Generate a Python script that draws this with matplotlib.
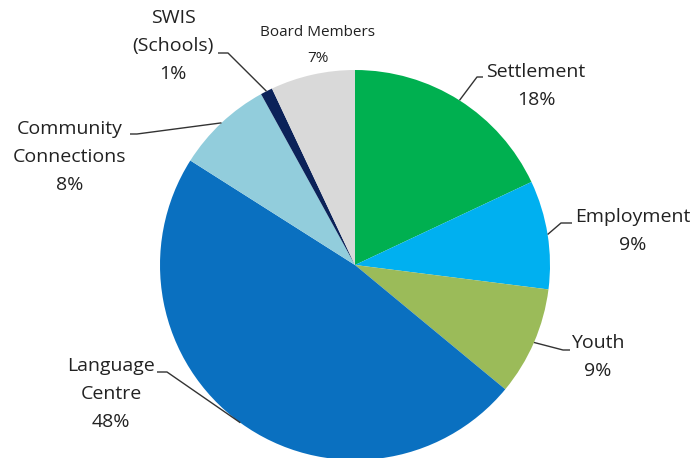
import matplotlib
matplotlib.use("Agg")
import matplotlib.pyplot as plt
import numpy as np

categories = ["Settlement", "Employment", "Youth", "Language\nCentre",
              "Community\nConnections", "SWIS\n(Schools)", "Board Members"]
values = [18, 9, 9, 48, 8, 1, 7]
colors = ["#00B050", "#00B0F0", "#9BBB59", "#0A70C0", "#92CDDC", "#0B2259", "#D9D9D9"]

W, H = 700, 458
fig = plt.figure(figsize=(7, 4.58), dpi=100)
ax = fig.add_axes([0, 0, 1, 1])

cx, cy, R = 355, H - 265, 195
wedges, _ = ax.pie(values, colors=colors, startangle=90, counterclock=False,
                   center=(cx, cy), radius=R, frame=True,
                   wedgeprops=dict(linewidth=0))
ax.set_xlim(0, W)
ax.set_ylim(0, H)
ax.set_aspect("equal")
ax.axis("off")

font = "Open Sans"
# label block centre (x, y in ref pixel coords), horizontal tick start & end
label_pos = [(536, 86), (633, 231), (598, 357), (111, 394), (70, 157), (173, 46), (318, 46)]
ticks = [((483, 77), (477, 77)), ((572, 223), (561, 223)), ((570, 350), (563, 350)),
         ((157, 372), (167, 372)), ((130, 134), (137, 134)), ((218, 53), (228, 53)), None]
sizes = [14, 14, 14, 14, 14, 14, 11]
spacing = [1.72, 1.72, 1.72, 1.72, 1.72, 1.72, 2.0]

for w, cat, v, (lx, ly), tk, fs, ls in zip(wedges, categories, values, label_pos, ticks, sizes, spacing):
    ax.text(lx, H - ly, f"{cat}\n{v}%", ha="center", va="center", fontsize=fs,
            family=font, color="#222222", linespacing=ls)
    if tk is not None:
        ang = np.deg2rad((w.theta1 + w.theta2) / 2)
        ex, ey = cx + R * np.cos(ang), cy + R * np.sin(ang)
        (x0, y0), (x1, y1) = tk
        ax.plot([x0, x1, ex], [H - y0, H - y1, ey], color="#333333", lw=1.0,
                solid_capstyle="butt")

fig.savefig("out.png", dpi=100, facecolor="white")
